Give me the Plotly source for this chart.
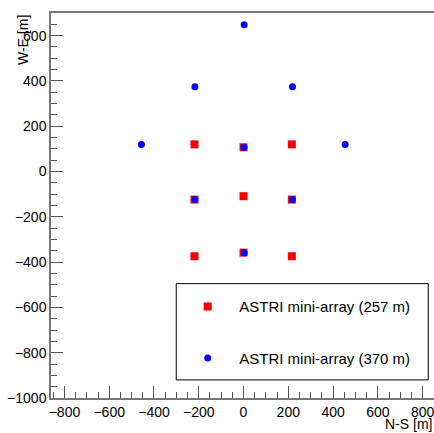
import plotly.graph_objects as go

# ASTRI mini-array (257 m) positions
x_257 = [-219, 0, 216, -219, 0, 216, -219, 0, 216]
y_257 = [120, 107, 120, -124, -109, -124, -374, -358, -374]

# ASTRI mini-array (370 m) positions
x_370 = [3, -217, 219, -456, 454, 2, -217, 218, 3]
y_370 = [648, 374, 374, 119, 119, 107, -124, -124, -359]

names = ["ASTRI mini-array (257 m)", "ASTRI mini-array (370 m)"]
x_title = "N-S [m]"
y_title = "W-E [m]"

FONT = "Liberation Sans, Arial, Helvetica, sans-serif"

fig = go.Figure()
fig.add_trace(go.Scatter(x=x_257, y=y_257, mode="markers", name=names[0],
                         legendgroup="a",
                         marker=dict(symbol="square", size=8, color="#ff0000")))
fig.add_trace(go.Scatter(x=x_370, y=y_370, mode="markers", name=names[1],
                         legendgroup="b",
                         marker=dict(symbol="circle", size=7, color="#0000ff")))

axis_common = dict(
    showgrid=False, zeroline=False, showline=True,
    linecolor="#777777", linewidth=1.5,
    ticks="inside", ticklen=12, tickcolor="#555555", tickwidth=1,
    tickfont=dict(family=FONT, size=14, color="black"),
    dtick=200, tick0=0, ticklabeloverflow="allow",
    minor=dict(ticks="inside", ticklen=6, dtick=50, tickcolor="#555555", tickwidth=1),
)

fig.update_xaxes(range=[-860, 851], mirror=True, **axis_common)
fig.update_yaxes(range=[-1000, 700], **axis_common)

fig.update_layout(
    width=434, height=433,
    margin=dict(l=51, r=0, t=13, b=35),
    plot_bgcolor="white", paper_bgcolor="white",
    font=dict(family=FONT, size=14, color="black"),
    legend=dict(
        x=0.327, y=0.2796, xanchor="left", yanchor="top",
        borderwidth=0, bgcolor="rgba(0,0,0,0)",
        itemwidth=53, tracegroupgap=29,
        font=dict(family=FONT, size=15, color="black"),
    ),
    shapes=[
        dict(type="rect", xref="paper", yref="paper",
             x0=0.327, x1=0.985, y0=0.047, y1=0.297,
             line=dict(color="black", width=1), fillcolor="white", layer="below"),
    ],
    annotations=[
        dict(text=x_title, xref="paper", yref="paper", x=1, y=0,
             xanchor="right", yanchor="middle", yshift=-26, showarrow=False,
             font=dict(family=FONT, size=14, color="black")),
        dict(text=y_title, xref="paper", yref="paper", x=0, y=1,
             xanchor="center", yanchor="top", xshift=-28, textangle=-90,
             showarrow=False, font=dict(family=FONT, size=14, color="black")),
    ],
)

fig.write_html("out.html", config={"displayModeBar": False},
               post_script="document.body.style.margin='0';document.body.style.overflow='hidden';")
